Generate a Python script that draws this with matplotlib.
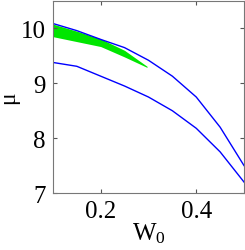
import numpy as np
import matplotlib.pyplot as plt

plt.rcParams['font.family'] = 'Liberation Serif'
plt.rcParams['mathtext.fontset'] = 'custom'
plt.rcParams['mathtext.rm'] = 'Liberation Serif'
plt.rcParams['mathtext.it'] = 'Liberation Serif'

# upper blue curve
w_up = [0.1, 0.15, 0.2, 0.25, 0.3, 0.35, 0.4, 0.45, 0.5]
mu_up = [10.09, 9.96, 9.8, 9.65, 9.42, 9.13, 8.75, 8.2, 7.5]

# lower blue curve
w_lo = [0.1, 0.15, 0.2, 0.25, 0.3, 0.35, 0.4, 0.45, 0.5]
mu_lo = [9.38, 9.31, 9.13, 8.95, 8.75, 8.5, 8.18, 7.75, 7.2]

# green band
w_band = [0.1, 0.15, 0.2, 0.25, 0.297]
band_top = [10.08, 9.95, 9.81, 9.6, 9.31]
band_bot = [9.85, 9.76, 9.67, 9.48, 9.29]

fig = plt.figure(figsize=(2.45, 2.51), dpi=100)
ax = fig.add_axes([0.216, 0.227, 0.78, 0.765])

ax.fill_between(w_band, band_bot, band_top, color='#00e600', lw=0)
ax.plot(w_up, mu_up, color='#0000ff', lw=1)
ax.plot(w_lo, mu_lo, color='#0000ff', lw=1)

ax.set_xlim(0.1, 0.5)
ax.set_ylim(7, 10.5)
ax.set_xticks([0.2, 0.4])
ax.set_xticklabels(['0.2', '0.4'])
ax.set_yticks([7, 8, 9, 10])
ax.tick_params(direction='in', top=True, right=True, labelsize=18,
               length=3, color='#555555', pad=5)
for s in ax.spines.values():
    s.set_color('#777777')

ax.set_xlabel(r'$\mathrm{W}_0$', fontsize=18, labelpad=-1)
ax.set_ylabel('μ', fontsize=17, labelpad=1)

fig.savefig('out.png', dpi=100)
